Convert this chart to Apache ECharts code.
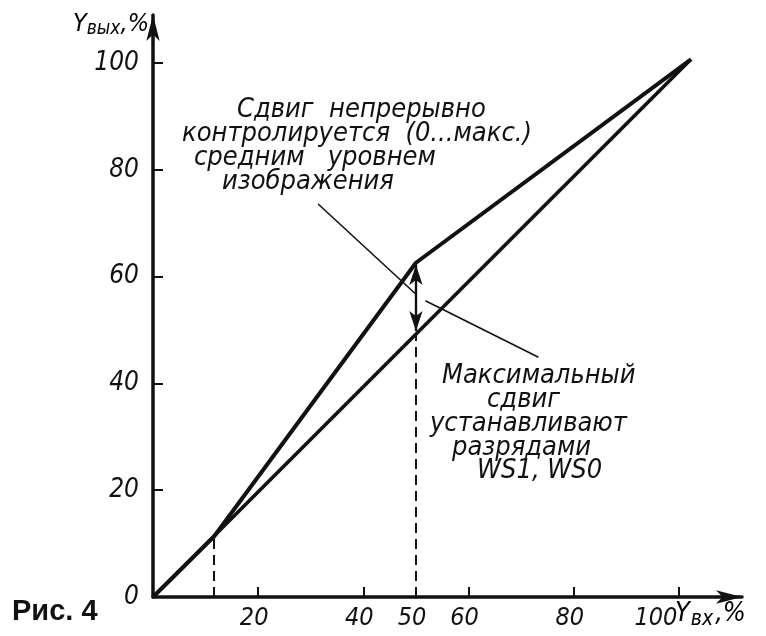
<!DOCTYPE html>
<html>
<head>
<meta charset="utf-8">
<script src="https://cdn.jsdelivr.net/npm/echarts@6/dist/echarts.min.js"></script>
<style>
  html, body { margin: 0; padding: 0; background: #fff; }
  #chart { width: 766px; height: 636px; }
</style>
</head>
<body>
<div id="chart"></div>
<script>
// данные (в % по осям)
const upperX = [0, 11.5, 50, 102.3];
const upperY = [0, 11.2, 62.6, 100.7];
const lowerX = [0, 102.3];
const lowerY = [0, 100.7];
const xTickValues = [20, 40, 60, 80, 100];
const xLabelValues = [20, 40, 50, 60, 80, 100];
const yTickValues = [20, 40, 60, 80, 100];
const yLabelValues = [0, 20, 40, 60, 80, 100];
// вертикальные штриховые линии: [x, yверх]
const dashX = [11.5, 50];
const dashTop = [11.2, 49.5];
// двойная стрелка сдвига при x = 50
const shiftX = 50;
const shiftFrom = 62.2;
const shiftTo = 49.8;
// выноски: [x1, y1, x2, y2]
const leaderTop = [31.4, 73.6, 49.9, 56.8];
const leaderBottom = [51.8, 55.5, 73.3, 44.9];

const ink = '#111';
const labelFont = '"Liberation Sans Narrow", "DejaVu Sans Condensed", "Liberation Sans", sans-serif';

function pairs(xs, ys) {
  return xs.map((x, i) => [x, ys[i]]);
}

const chart = echarts.init(document.getElementById('chart'));

const noteTop = [
  { text: 'Сдвиг  непрерывно', left: 237, top: 110 },
  { text: 'контролируется  (0...макс.)', left: 182, top: 134 },
  { text: 'средним   уровнем', left: 194, top: 158 },
  { text: 'изображения', left: 222, top: 182 }
];
const noteBottom = [
  { text: 'Максимальный', left: 442, top: 376 },
  { text: 'сдвиг', left: 487, top: 400 },
  { text: 'устанавливают', left: 430, top: 424 },
  { text: 'разрядами', left: 452, top: 448 },
  { text: 'WS1, WS0', left: 477, top: 471 }
];

const noteGraphics = noteTop.concat(noteBottom).map(n => ({
  type: 'text',
  x: n.left,
  y: n.top,
  style: {
    text: n.text,
    font: 'italic 27px ' + labelFont,
    fill: ink,
    textVerticalAlign: 'middle'
  }
}));

const yNameRich = {
  a: { fontFamily: labelFont, fontStyle: 'italic', fontSize: 25, color: ink, lineHeight: 30 },
  b: { fontFamily: labelFont, fontStyle: 'italic', fontSize: 19, color: ink, lineHeight: 30, verticalAlign: 'bottom' }
};
const xNameRich = {
  a: { fontFamily: labelFont, fontStyle: 'italic', fontSize: 27, color: ink, lineHeight: 32, padding: [0, 1, 0, 0] },
  b: { fontFamily: labelFont, fontStyle: 'italic', fontSize: 21, color: ink, lineHeight: 32, verticalAlign: 'bottom', padding: [0, 2, 0, 0] }
};

const option = {
  backgroundColor: '#fff',
  animation: false,
  grid: { left: 153, right: 24, top: 15, bottom: 39 },
  xAxis: {
    type: 'value',
    min: 0,
    max: 112,
    axisLine: {
      show: true,
      onZero: false,
      symbol: ['none', 'arrow'],
      symbolSize: [10, 26],
      lineStyle: { color: ink, width: 3.5 }
    },
    axisTick: {
      show: true,
      inside: true,
      length: 10,
      customValues: xTickValues,
      lineStyle: { color: ink, width: 2 }
    },
    axisLabel: {
      customValues: xLabelValues,
      margin: 9,
      color: ink,
      formatter: v => (v === 100 ? '{e|100}' : '{n|' + v + '}'),
      rich: {
        n: { fontFamily: labelFont, fontStyle: 'italic', fontSize: 25, color: ink, padding: [0, 8, 0, 0] },
        e: { fontFamily: labelFont, fontStyle: 'italic', fontSize: 25, color: ink, padding: [0, 46, 0, 0] }
      }
    },
    splitLine: { show: false }
  },
  yAxis: {
    type: 'value',
    min: 0,
    max: 109,
    axisLine: {
      show: true,
      onZero: false,
      symbol: ['none', 'arrow'],
      symbolSize: [10, 26],
      lineStyle: { color: ink, width: 3.5 }
    },
    axisTick: {
      show: true,
      inside: true,
      length: 10,
      customValues: yTickValues,
      lineStyle: { color: ink, width: 2 }
    },
    axisLabel: {
      customValues: yLabelValues,
      margin: 14,
      fontFamily: labelFont,
      fontStyle: 'italic',
      fontSize: 26,
      color: ink
    },
    splitLine: { show: false }
  },
  graphic: noteGraphics.concat([
    {
      type: 'text',
      x: 12,
      y: 612,
      style: {
        text: 'Рис. 4',
        font: 'bold 29px "Liberation Sans", Arial, sans-serif',
        fill: ink,
        textVerticalAlign: 'middle'
      }
    },
    {
      type: 'text',
      x: 149,
      y: 24,
      style: {
        text: '{a|Y}{b|вых}{a|,%}',
        align: 'right',
        verticalAlign: 'middle',
        rich: yNameRich
      }
    },
    {
      type: 'text',
      x: 675,
      y: 614,
      style: {
        text: '{a|Y}{b|вх}{a|,%}',
        align: 'left',
        verticalAlign: 'middle',
        rich: xNameRich
      }
    }
  ]),
  series: [
    {
      name: 'upper',
      type: 'line',
      data: pairs(upperX, upperY),
      symbol: 'none',
      lineStyle: { color: ink, width: 4 },
      z: 3
    },
    {
      name: 'lower',
      type: 'line',
      data: pairs(lowerX, lowerY),
      symbol: 'none',
      lineStyle: { color: ink, width: 3.6 },
      z: 3,
      markLine: {
        silent: true,
        animation: false,
        label: { show: false },
        data: [
          [
            { coord: [dashX[0], 0], symbol: 'none', lineStyle: { type: [10, 6], width: 2, color: ink } },
            { coord: [dashX[0], dashTop[0]], symbol: 'none' }
          ],
          [
            { coord: [dashX[1], 0], symbol: 'none', lineStyle: { type: [10, 6], width: 2, color: ink } },
            { coord: [dashX[1], dashTop[1]], symbol: 'none' }
          ],
          [
            { coord: [shiftX, shiftFrom], symbol: 'arrow', symbolSize: [10, 20], lineStyle: { type: 'solid', width: 2.4, color: ink } },
            { coord: [shiftX, shiftTo], symbol: 'arrow', symbolSize: [10, 20] }
          ],
          [
            { coord: [leaderTop[0], leaderTop[1]], symbol: 'none', lineStyle: { type: 'solid', width: 1.6, color: ink } },
            { coord: [leaderTop[2], leaderTop[3]], symbol: 'none' }
          ],
          [
            { coord: [leaderBottom[0], leaderBottom[1]], symbol: 'none', lineStyle: { type: 'solid', width: 1.6, color: ink } },
            { coord: [leaderBottom[2], leaderBottom[3]], symbol: 'none' }
          ]
        ]
      }
    }
  ]
};

chart.setOption(option);
</script>
</body>
</html>
